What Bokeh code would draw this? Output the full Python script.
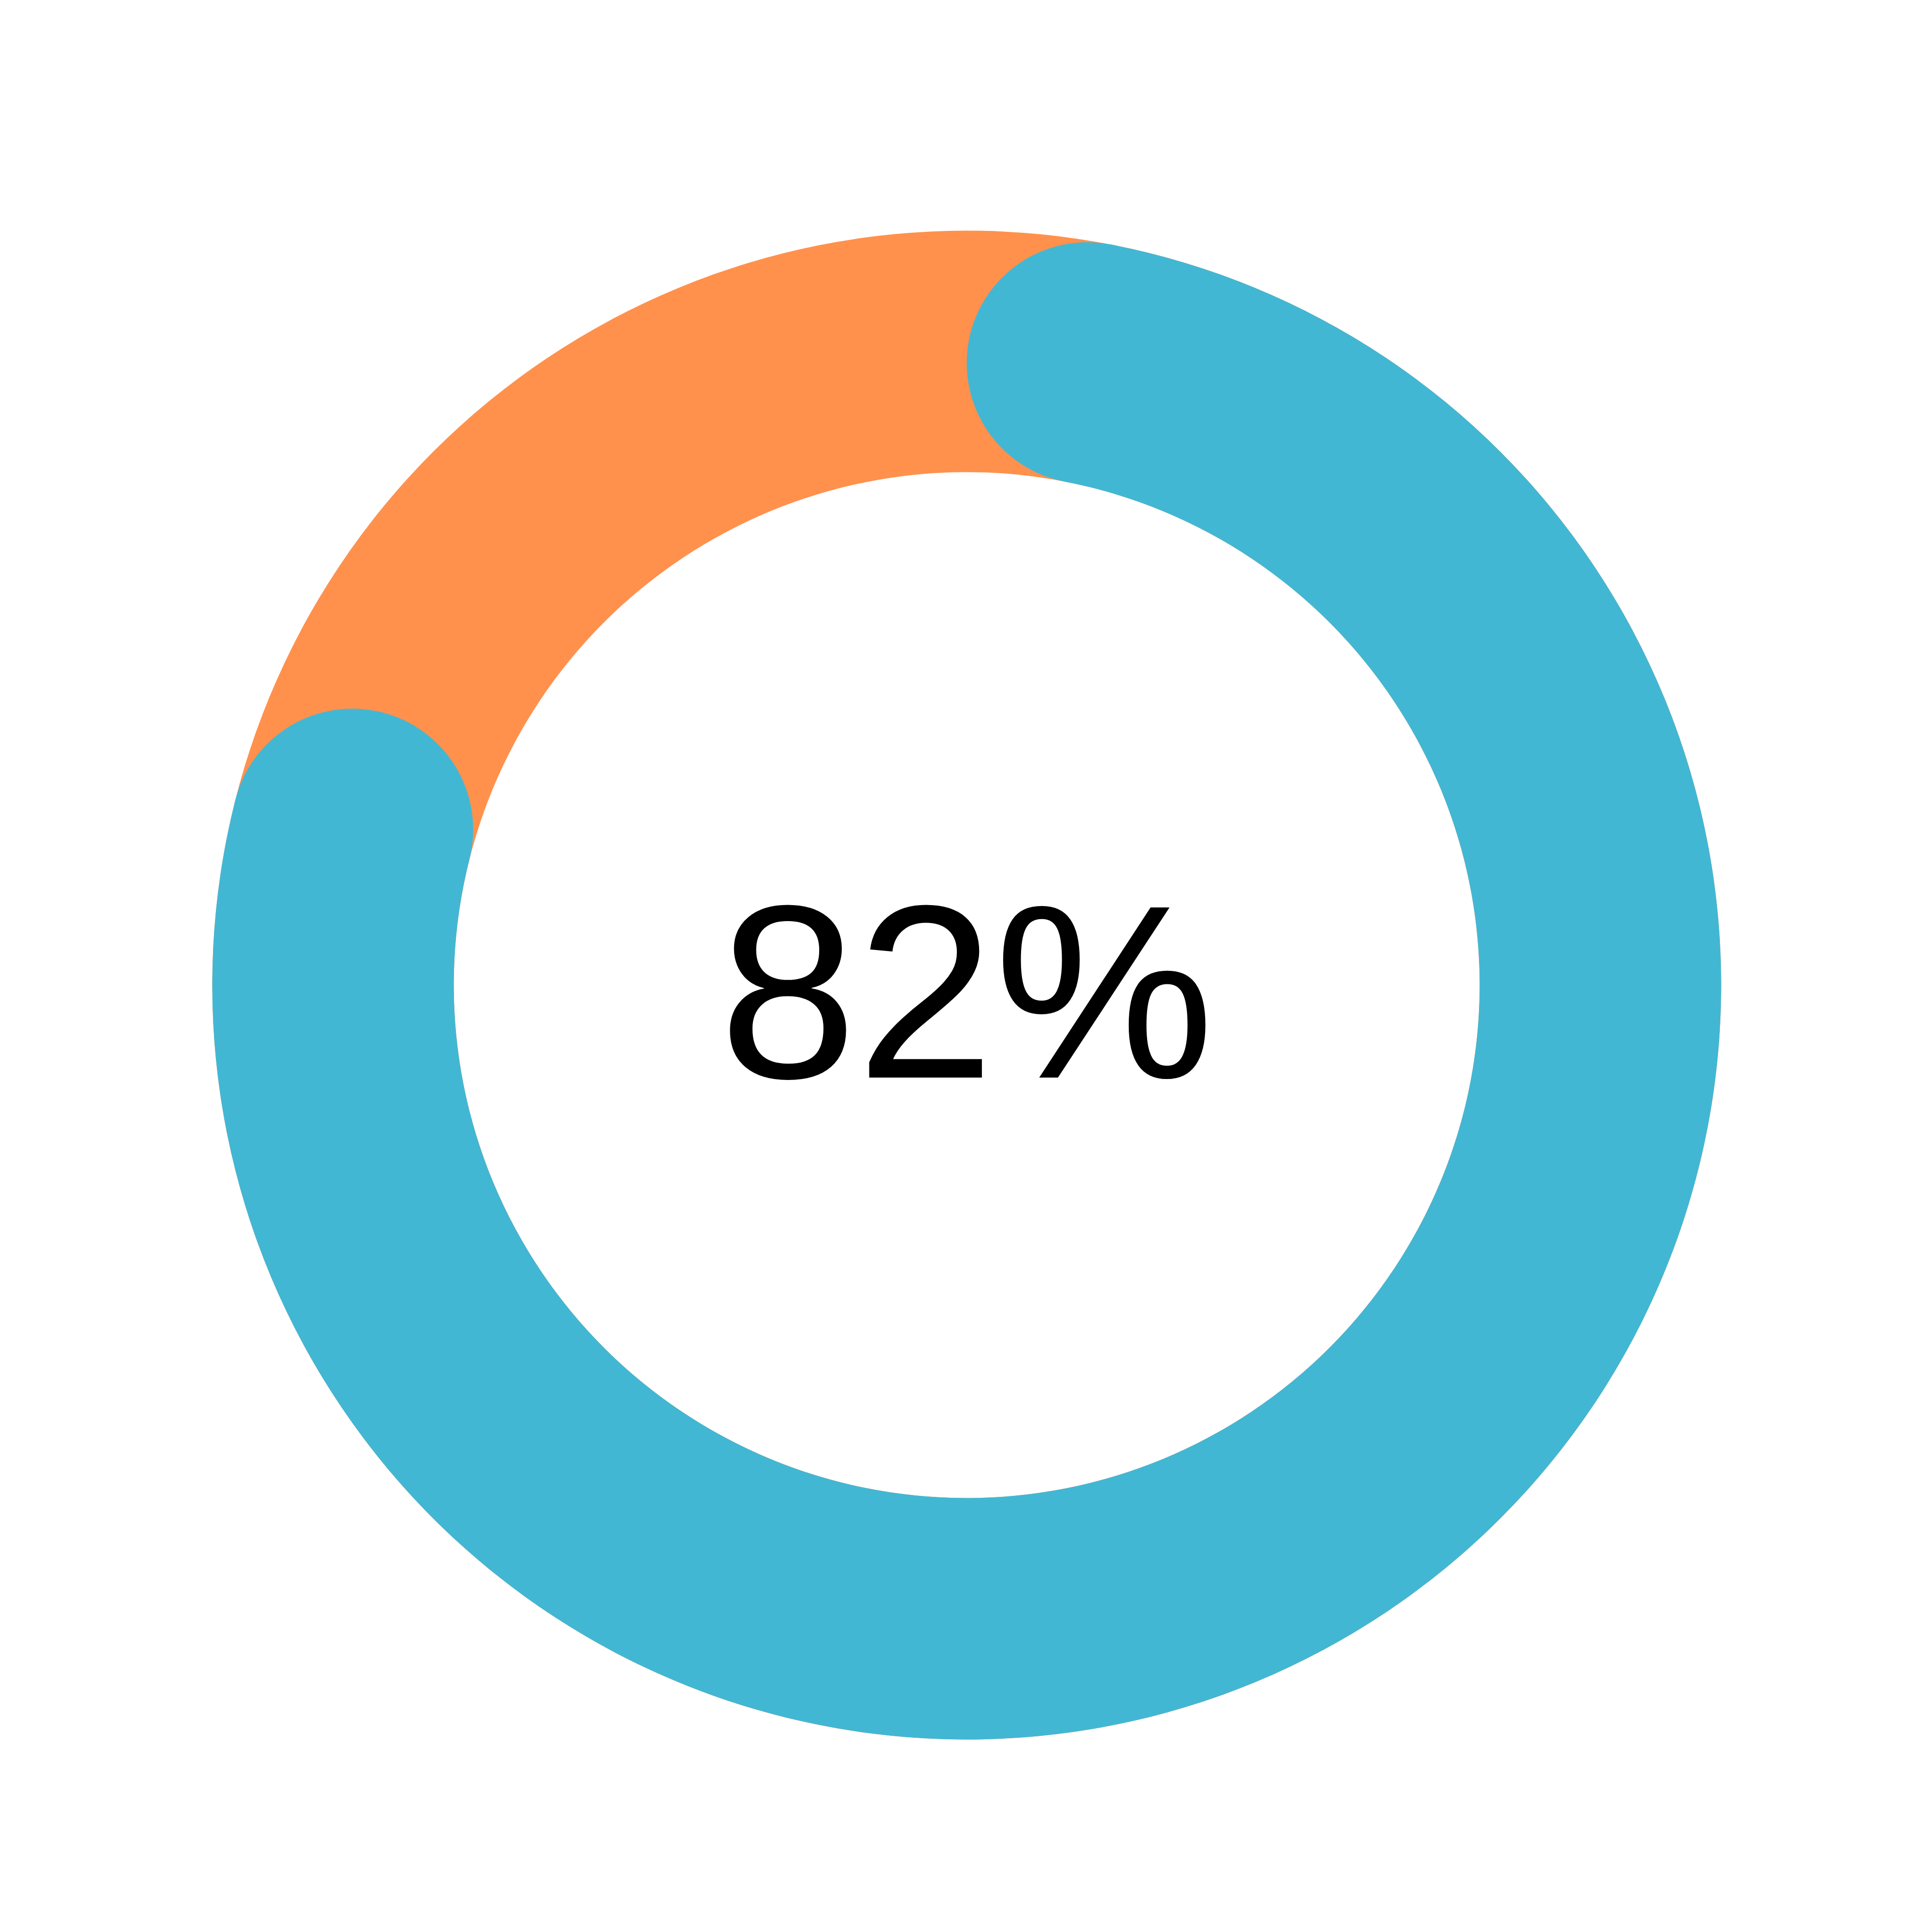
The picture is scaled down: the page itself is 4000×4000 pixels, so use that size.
import math
from bokeh.plotting import figure
from bokeh.models import Range1d, ColumnDataSource
from bokeh.core.properties import value
from bokeh.embed import file_html
from bokeh.resources import INLINE

# ---- data ----
progress_percent = [82]
label_texts = ["82%"]

# ---- geometry (pixel-like data units, centre at 0,0) ----
W = H = 3984
CX_PIX, CY_PIX = 2001, 2039
R_OUT, R_IN = 1562, 1062
R_MID = (R_OUT + R_IN) / 2
CAP_R = (R_OUT - R_IN) / 2

ORANGE = "#FF914D"
BLUE = "#42B7D4"

p = figure(width=W, height=H, output_backend="svg", toolbar_location=None,
           x_range=Range1d(-CX_PIX, W - CX_PIX),
           y_range=Range1d(-(H - CY_PIX), CY_PIX),
           min_border=0)
p.axis.visible = False
p.grid.visible = False
p.outline_line_color = None
p.background_fill_color = "white"
p.border_fill_color = "white"

# background full ring
p.annulus(x=[0], y=[0], inner_radius=R_IN, outer_radius=R_OUT,
          fill_color=ORANGE, line_color=None)

# progress arc (clockwise from top), round caps included in the percentage
pct = progress_percent[0]
total_deg = 360.0 * pct / 100.0
cap_deg = math.degrees(math.asin(CAP_R / R_MID))
start_cw = cap_deg
end_cw = total_deg - cap_deg
start_ang = math.radians(90 - start_cw)
end_ang = math.radians(90 - end_cw)

src = ColumnDataSource(dict(x=[0], y=[0], s=[start_ang], e=[end_ang]))
p.annular_wedge(x="x", y="y", inner_radius=R_IN, outer_radius=R_OUT,
                start_angle="s", end_angle="e", direction="clock",
                fill_color=BLUE, line_color=None, source=src)

cap_x = [R_MID * math.cos(start_ang), R_MID * math.cos(end_ang)]
cap_y = [R_MID * math.sin(start_ang), R_MID * math.sin(end_ang)]
p.circle(x=cap_x, y=cap_y, radius=CAP_R, fill_color=BLUE, line_color=None)

# centre label
p.text(x=[0], y=[-14], text=label_texts, text_align="center",
       text_baseline="middle", text_font=value("Liberation Sans"),
       text_font_size="512px", text_color="black")

open("out.html", "w").write(file_html(p, INLINE))
